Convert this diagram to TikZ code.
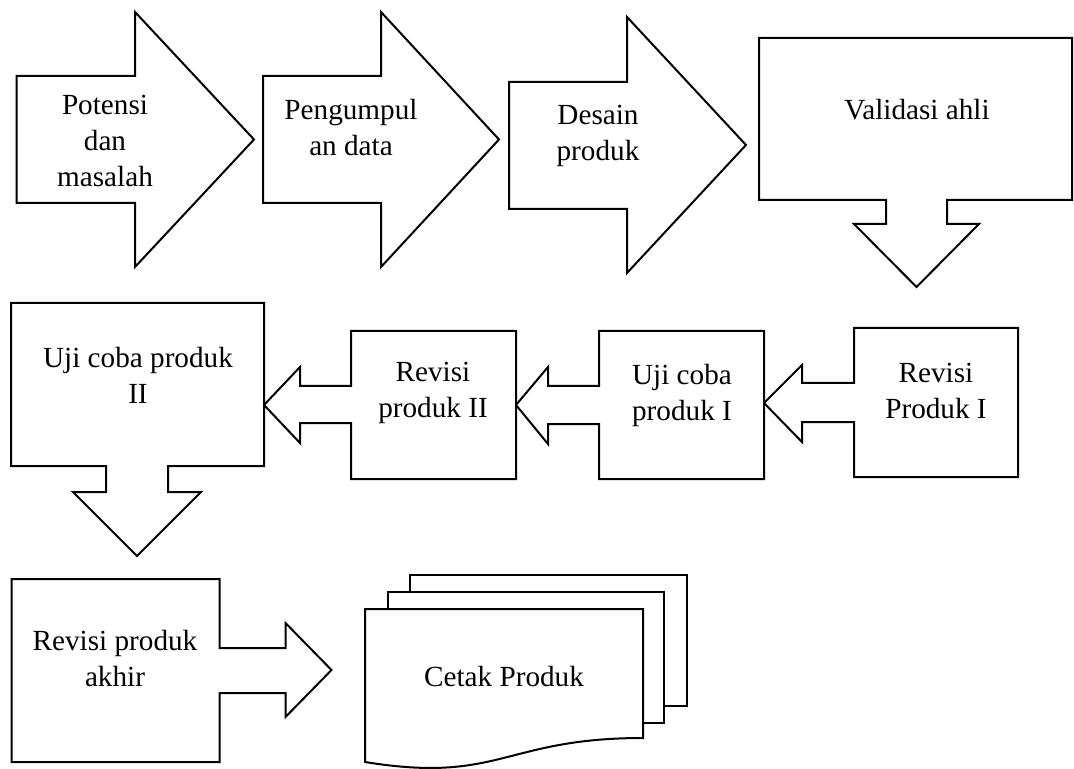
\documentclass[tikz,border=0pt]{standalone}
\usepackage{fontspec}
\setmainfont{Liberation Serif}
\usepackage{tikz}

\tikzset{
  shp/.style={draw, fill=white, line width=1pt, line join=miter},
  lbl/.style={align=center, inner sep=0pt, font=\fontsize{14.6}{18}\selectfont}
}

\begin{document}
\begin{tikzpicture}[x=0.5pt,y=-0.5pt]
\useasboundingbox (0,0) rectangle (1074,769);
% top row
\draw[shp] (16.5,76) -- (135,76) -- (135,12) -- (254,139.5) -- (135,267) -- (135,203) -- (16.5,203) -- cycle;
\draw[shp] (263,76) -- (381,76) -- (381,12) -- (499,139.5) -- (381,267) -- (381,203) -- (263,203) -- cycle;
\draw[shp] (509,82) -- (627,82) -- (627,17) -- (746,145) -- (627,273) -- (627,209) -- (509,209) -- cycle;
\draw[shp] (759,38) -- (1072,38) -- (1072,200) -- (947,200) -- (947,224) -- (979,224) -- (916.5,287)
  -- (854,224) -- (886,224) -- (886,200) -- (759,200) -- cycle;
\node[lbl] (potensi) at (105,141) {Potensi\\dan\\masalah};
\node[lbl] (pengumpulan) at (351,128) {Pengumpul\\an data};
\node[lbl] (desain) at (598,135.5) {Desain\\produk};
\node[lbl] (validasi) at (917,110) {Validasi ahli};
% middle row
\draw[shp] (11,303) -- (264,303) -- (264,466) -- (168,466) -- (168,492) -- (201,492) -- (137,556)
  -- (73,492) -- (106,492) -- (106,466) -- (11,466) -- cycle;
\draw[shp] (351,331) -- (516,331) -- (516,479) -- (351,479) -- (351,423) -- (300,423) -- (300,443)
  -- (264,405) -- (300,367) -- (300,386) -- (351,386) -- cycle;
\draw[shp] (599,331) -- (764,331) -- (764,479) -- (599,479) -- (599,424) -- (548,424) -- (548,444)
  -- (516,405) -- (548,367) -- (548,386) -- (599,386) -- cycle;
\draw[shp] (854,328) -- (1018,328) -- (1018,477) -- (854,477) -- (854,422) -- (802,422) -- (802,442)
  -- (764,403) -- (802,365) -- (802,383) -- (854,383) -- cycle;
\node[lbl] (ujiII) at (138,375) {Uji coba produk\\II};
\node[lbl] (revisiII) at (433,393) {Revisi\\produk II};
\node[lbl] (ujiI) at (682,395) {Uji coba\\produk I};
\node[lbl] (revisiI) at (936,391) {Revisi\\Produk I};
% bottom row
\draw[shp] (11.5,579) -- (219.5,579) -- (219.5,648) -- (285.5,648) -- (285.5,623) -- (331.5,670)
  -- (285.5,717) -- (285.5,693) -- (219.5,693) -- (219.5,762) -- (11.5,762) -- cycle;
\draw[shp] (410,575) rectangle (687,706);
\draw[shp] (388,592) rectangle (664,723);
\draw[shp] (365,609) -- (643,609) -- (643,738) .. controls (504,738) and (500,784) .. (365,762) -- cycle;
\node[lbl] (revakhir) at (115,659) {Revisi produk\\akhir};
\node[lbl] (cetak) at (504,677) {Cetak Produk};
\end{tikzpicture}
\end{document}
